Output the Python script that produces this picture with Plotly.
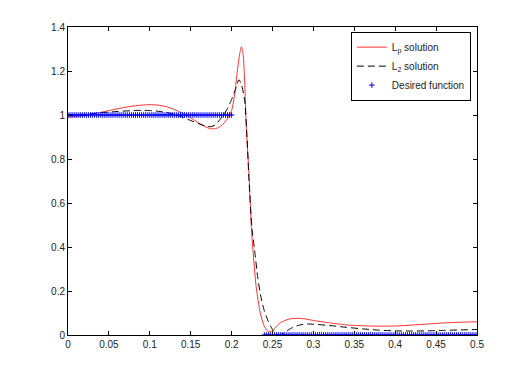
import plotly.graph_objects as go

# Lp solution (red)
lp_x = [0, 0.01, 0.02, 0.03, 0.04, 0.05, 0.06, 0.07, 0.08, 0.09, 0.1, 0.11, 0.12, 0.13, 0.14,
        0.15, 0.16, 0.17, 0.175, 0.18, 0.185, 0.19, 0.195, 0.2, 0.204, 0.207, 0.21, 0.212,
        0.214, 0.216, 0.218, 0.221, 0.224, 0.226, 0.23, 0.235, 0.24, 0.245, 0.25, 0.255,
        0.26, 0.27, 0.28, 0.29, 0.3, 0.32, 0.34, 0.36, 0.38, 0.4, 0.42, 0.44, 0.46, 0.48, 0.5]
lp_y = [0.99, 0.993, 0.998, 1.005, 1.012, 1.02, 1.028, 1.035, 1.041, 1.045, 1.047, 1.045, 1.038,
        1.025, 1.008, 0.987, 0.963, 0.943, 0.937, 0.938, 0.945, 0.96, 0.985, 1.02, 1.1, 1.2,
        1.28, 1.31, 1.28, 1.15, 0.94, 0.75, 0.5, 0.39, 0.22, 0.1, 0.04, 0.015, 0.02, 0.04,
        0.057, 0.072, 0.076, 0.073, 0.066, 0.055, 0.046, 0.042, 0.04, 0.041, 0.045, 0.05,
        0.055, 0.058, 0.06]

# L2 solution (black dashed)
l2_x = [0, 0.02, 0.04, 0.06, 0.08, 0.09, 0.1, 0.11, 0.12, 0.13, 0.14, 0.15, 0.16, 0.17, 0.175,
        0.18, 0.19, 0.195, 0.2, 0.205, 0.209, 0.212, 0.216, 0.219, 0.221, 0.225, 0.228, 0.232,
        0.236, 0.24, 0.245, 0.25, 0.255, 0.258, 0.265, 0.27, 0.28, 0.29, 0.3, 0.32, 0.34, 0.36,
        0.38, 0.4, 0.42, 0.44, 0.46, 0.48, 0.5]
l2_y = [1.0, 1.003, 1.01, 1.016, 1.02, 1.021, 1.02, 1.017, 1.012, 1.003, 0.99, 0.975, 0.96,
        0.948, 0.947, 0.955, 1.0, 1.03, 1.07, 1.12, 1.16, 1.14, 1.065, 0.89, 0.72, 0.48, 0.39,
        0.26, 0.17, 0.11, 0.06, 0.025, 0.005, 0.0, 0.01, 0.025, 0.042, 0.05, 0.049, 0.043,
        0.035, 0.028, 0.022, 0.019, 0.018, 0.019, 0.021, 0.023, 0.025]

# Desired function (blue +)
des_x = [round(i * 0.0025, 4) for i in range(0, 81)] + [round(0.24 + i * 0.0025, 4) for i in range(0, 105)]
des_y = [1.0] * 81 + [0.0] * 105

x_ticks = [0, 0.05, 0.1, 0.15, 0.2, 0.25, 0.3, 0.35, 0.4, 0.45, 0.5]
x_labels = ["0", "0.05", "0.1", "0.15", "0.2", "0.25", "0.3", "0.35", "0.4", "0.45", "0.5"]
y_ticks = [0, 0.2, 0.4, 0.6, 0.8, 1, 1.2, 1.4]
y_labels = ["0", "0.2", "0.4", "0.6", "0.8", "1", "1.2", "1.4"]

fig = go.Figure()
fig.add_trace(go.Scatter(x=lp_x, y=lp_y, mode="lines", name="L<sub>p</sub> solution",
                         line=dict(color="#ff3030", width=1, shape="spline", smoothing=0.6)))
fig.add_trace(go.Scatter(x=l2_x, y=l2_y, mode="lines", name="L<sub>2</sub> solution",
                         line=dict(color="black", width=1, dash="7px,4px", shape="spline", smoothing=0.6)))
fig.add_trace(go.Scatter(x=des_x, y=des_y, mode="markers", name="Desired function",
                         marker=dict(symbol="cross-thin", size=4, color="blue",
                                     line=dict(color="blue", width=1))))

axis_common = dict(showline=True, linecolor="black", linewidth=1, mirror="ticks",
                   ticks="inside", ticklen=4, tickcolor="black", showgrid=False, zeroline=False,
                   tickfont=dict(family="Liberation Sans, Arial", size=10, color="#222"))

# page body has an 8px margin, so the figure is 8px smaller and offset
fig.update_layout(
    width=518, height=368,
    margin=dict(l=60, r=49, t=19, b=41),
    paper_bgcolor="white", plot_bgcolor="white",
    xaxis=dict(range=[0, 0.5], tickvals=x_ticks, ticktext=x_labels, **axis_common),
    yaxis=dict(range=[0, 1.4], tickvals=y_ticks, ticktext=y_labels, **axis_common),
    legend=dict(x=0.985, y=0.985, xanchor="right", yanchor="top", bgcolor="white",
                bordercolor="black", borderwidth=1,
                font=dict(family="Liberation Sans, Arial", size=10, color="#222"),
                tracegroupgap=0, itemwidth=30),
    showlegend=True,
)

fig.write_html("out.html")
